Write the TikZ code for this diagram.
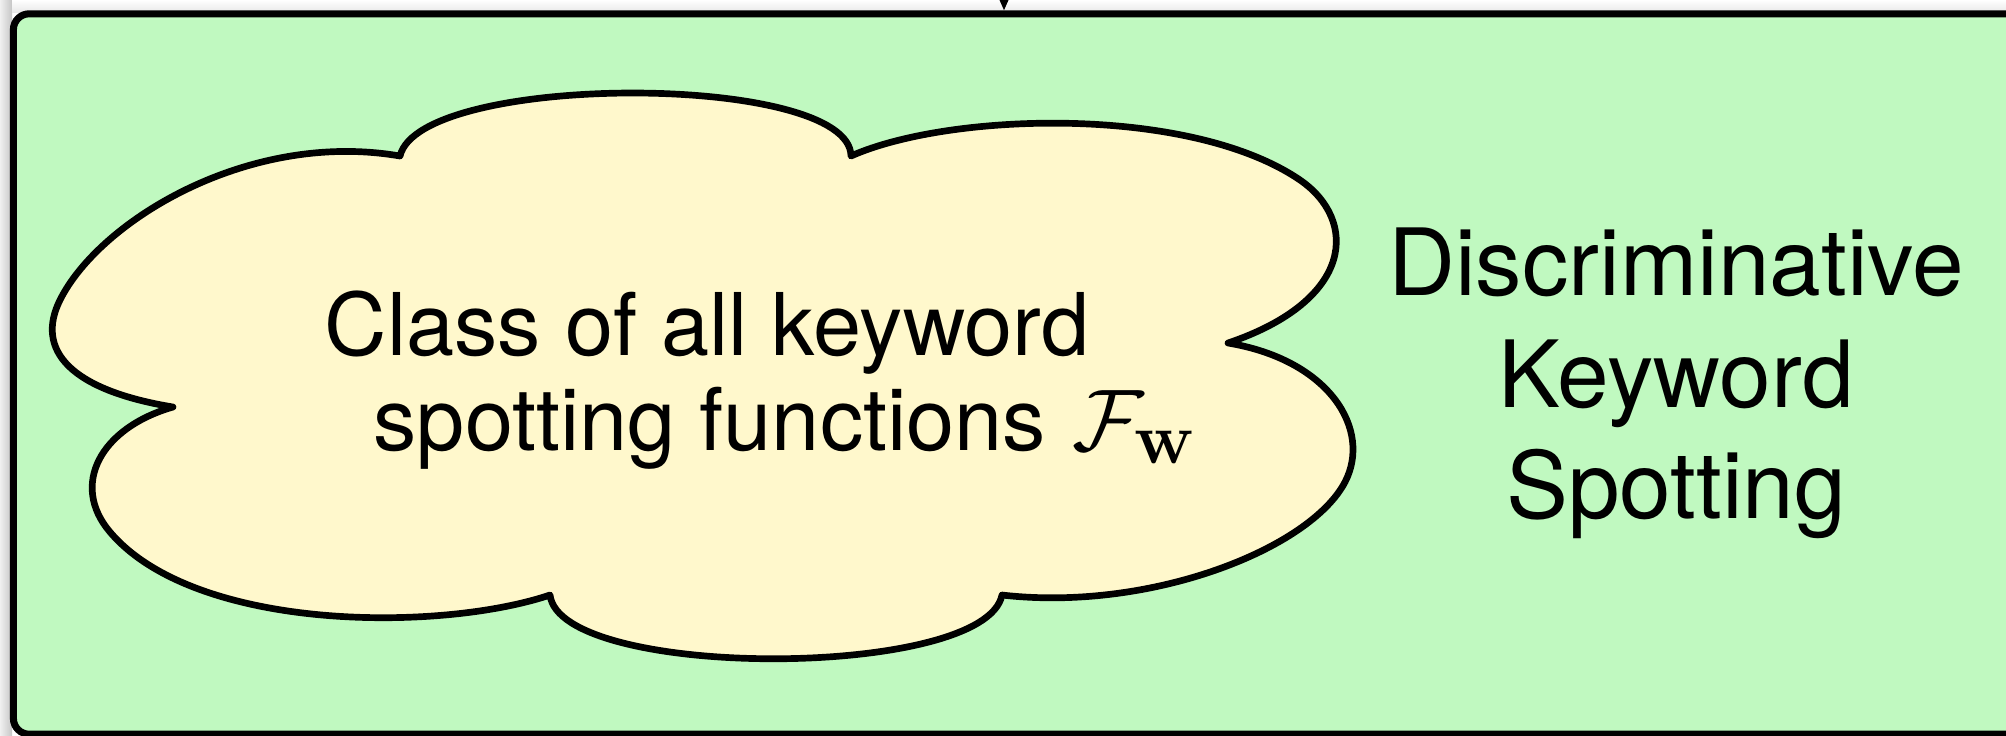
\documentclass[tikz,border=0pt]{standalone}
\usepackage[no-math]{fontspec}
\setmainfont{TeX Gyre Heros}
\usetikzlibrary{arrows.meta}
\DeclareMathSizes{24.6}{24.6}{21}{15}
\definecolor{boxgreen}{HTML}{C0F9C0}
\definecolor{cloudyellow}{HTML}{FFF8CC}
\tikzset{
  outerbox/.style={draw=black, line width=2pt, fill=boxgreen, rounded corners=4.5pt, inner sep=0pt},
  cloudline/.style={draw=black, line width=1.9pt, line join=round, fill=cloudyellow},
  lefttext/.style={anchor=base west, inner sep=0pt, font=\fontsize{24.6}{28}\selectfont},
  righttext/.style={anchor=base, inner sep=0pt, font=\fontsize{26.4}{31}\selectfont},
  tipline/.style={line width=0.6pt, -{Triangle[length=7pt,width=6pt]}}
}
\begin{document}
\begin{tikzpicture}[x=0.01cm, y=-0.01cm]
\useasboundingbox (0,0) rectangle (2006,735);
% soft shadow strips around the box
\shade[left color=gray!12, right color=gray!45] (0,0) rectangle (12,735);
\shade[top color=white, bottom color=gray!18] (12,0) rectangle (2006,12);
% outer green box (extends past right edge)
\node[outerbox, minimum width=20.2cm, minimum height=7.2cm] (box) at (1024,374) {};
% arrow coming from above
\coordinate (above) at (1004,-60);
\draw[tipline] (above) -- (box.north -| above);
% cloud
\path[cloudline]
  (173,407) .. controls (70,390) and (35,350) .. (60,300)
            .. controls (100,220) and (250,130) .. (400,156)
            .. controls (420,72) and (850,72) .. (851,156)
            .. controls (950,112) and (1190,105) .. (1300,180)
            .. controls (1358,220) and (1355,300) .. (1228,343)
            .. controls (1330,360) and (1372,430) .. (1345,482)
            .. controls (1310,549) and (1150,612) .. (1002,595)
            .. controls (985,680) and (560,680) .. (550,595)
            .. controls (440,632) and (195,632) .. (110,532)
            .. controls (70,485) and (100,428) .. (173,407) -- cycle;
% cloud text
\node[lefttext] (l1) at (324,355) {Class of all keyword};
\node[lefttext] (l2) at (373,450) {spotting functions\hspace{0.3em}$\mathcal{F}_{\mathbf{w}}$};
% right text
\node[righttext] (r1) at (1676,295) {Discriminative};
\node[righttext] (r2) at (1676,407) {Keyword};
\node[righttext] (r3) at (1676,518) {Spotting};
\end{tikzpicture}
\end{document}
